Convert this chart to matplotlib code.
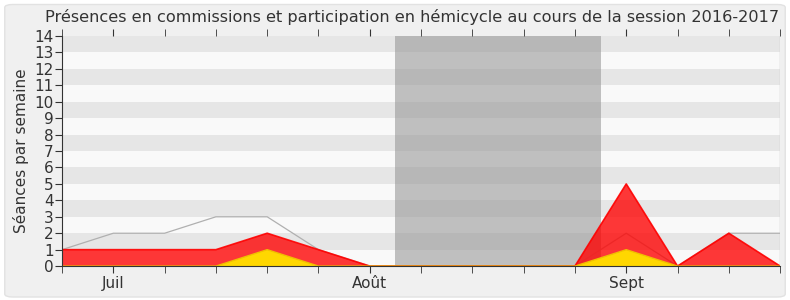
import numpy as np
import matplotlib.pyplot as plt
from matplotlib.patches import FancyBboxPatch

# weekly values, session 2016-2017 (summer)
weeks = np.arange(15)
commissions = [1, 1, 1, 1, 2, 1, 0, 0, 0, 0, 0, 5, 0, 2, 0]
hemicycle = [0, 0, 0, 0, 1, 0, 0, 0, 0, 0, 0, 1, 0, 0, 0]
total = [1, 2, 2, 3, 3, 1, 0, 0, 0, 0, 0, 2, 0, 2, 2]
month_ticks = [1, 6, 11]
month_labels = ['Juil', 'Août', 'Sept']
vacances = (6.5, 10.5)
ymax = 14

fig = plt.figure(figsize=(7.9, 3.0), dpi=100, facecolor='white')
fig.patches.append(FancyBboxPatch((0.006, 0.01), 0.988, 0.975, boxstyle='round,pad=0,rounding_size=0.01',
                                  transform=fig.transFigure, facecolor='#f0f0f0', edgecolor='#e2e2e2',
                                  lw=1, zorder=-10))
ax = fig.add_axes([0.0785, 0.113, 0.909, 0.767])
ax.set_facecolor('#f9f9f9')

# alternating stripes
for k in range(1, ymax, 2):
    ax.axhspan(k, k + 1, color='#e6e6e6', lw=0, zorder=0)

ax.axvspan(*vacances, color='#999999', alpha=0.6, lw=0, zorder=1)

ax.plot(weeks, total, color='#b0b0b0', lw=0.9, zorder=2)
ax.fill_between(weeks, 0, commissions, facecolor='#ff0000', alpha=0.78, lw=0, zorder=3)
ax.plot(weeks, commissions, color='#ff0000', lw=1.2, alpha=0.9, zorder=3)
ax.fill_between(weeks, 0, hemicycle, facecolor='#ffd700', lw=0, zorder=4)
ax.plot(weeks, hemicycle, color='#f0c000', lw=1, zorder=4)

ax.set_xlim(0, 14)
ax.set_ylim(0, ymax)
ax.set_yticks(range(0, ymax + 1))
ax.set_xticks(weeks, minor=True)
ax.set_xticks(month_ticks)
ax.set_xticklabels(month_labels)
ax.tick_params(axis='x', which='both', length=5, color='#333333', labelsize=11, labelcolor='#333333',
               top=True, pad=2)
ax.tick_params(axis='y', length=5, color='#333333', labelsize=11, labelcolor='#333333', pad=1)

for s in ['top', 'right']:
    ax.spines[s].set_visible(False)
for s in ['left', 'bottom']:
    ax.spines[s].set_color('#333333')
    ax.spines[s].set_zorder(6)
ax.axvline(14, color='#c8c8c8', lw=1, zorder=1)

ax.set_ylabel('Séances par semaine', fontsize=11, color='#333333', labelpad=4)
fig.text(0.521, 0.943, 'Présences en commissions et participation en hémicycle au cours de la session 2016-2017',
         fontsize=11.6, color='#333333', ha='center', va='center')

fig.savefig('out.png', dpi=100, facecolor=fig.get_facecolor())
